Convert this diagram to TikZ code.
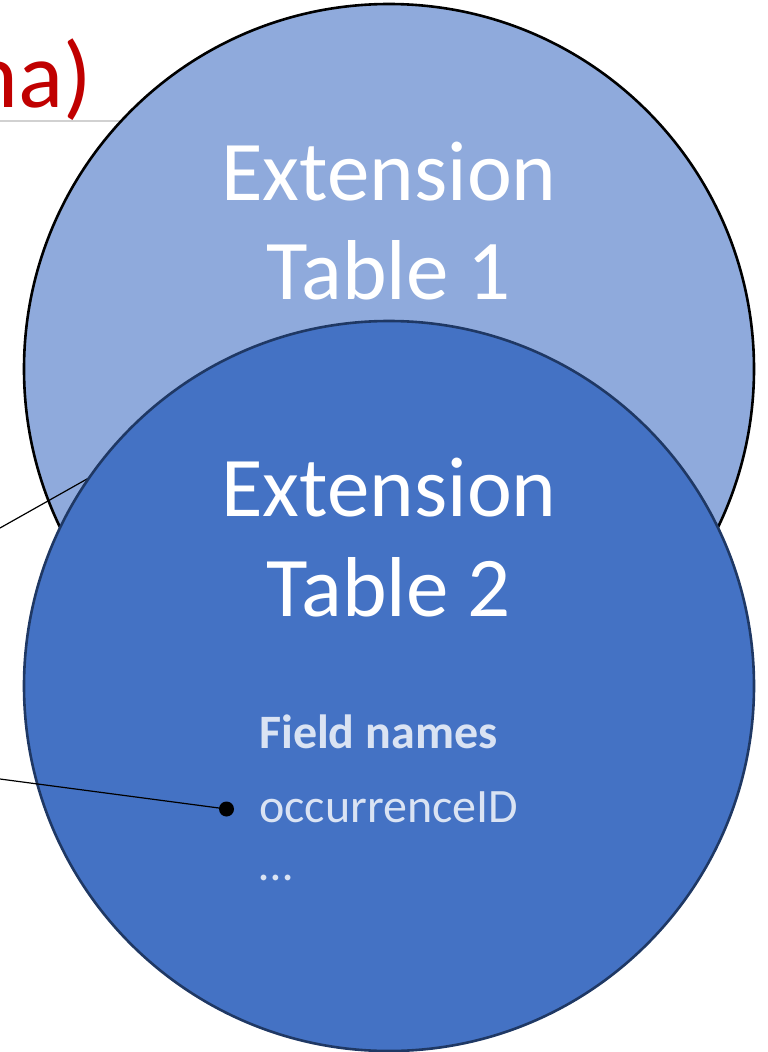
\documentclass[tikz,border=0pt]{standalone}
\usepackage{fontspec}
\setmainfont{Carlito}
\usepackage{tikz}
\usetikzlibrary{positioning,calc}
\definecolor{titlered}{HTML}{C00000}
\definecolor{lightblue}{HTML}{8FAADC}
\definecolor{midblue}{HTML}{4472C4}
\definecolor{navy}{HTML}{1F3864}
\definecolor{paleblue}{HTML}{DAE3F3}
\tikzset{
    % Define style for the two tables
    tablecircle/.style={
           circle,
           minimum size=730pt,
           inner sep=0pt,
           line width=2.6pt},
    % Define style for big white titles
    bigtitle/.style={
           text=white,
           anchor=base,
           inner sep=0pt,
           font=\fontsize{85}{100}\selectfont},
    % Define style for field list
    fieldtext/.style={
           text=paleblue,
           anchor=base west,
           inner sep=0pt,
           font=\fontsize{48}{58}\selectfont},
    % Define style for pointer lines
    pointer/.style={
           black,
           line width=1.2pt}
}
\begin{document}
\begin{tikzpicture}[x=1pt,y=-1pt]
	% Frame
	\useasboundingbox (0,0) rectangle (768,1052);
	\clip (0,0) rectangle (768,1052);

	% Heading remainder
	\node[anchor=base east, inner sep=0pt, text=titlered,
	      font=\fontsize{94}{110}\selectfont] (head) at (92,107) {schema)};
	\coordinate (rulestart) at (0,121);
	\coordinate (ruleend) at (200,121);
	\draw[black!18, line width=1.5pt] (rulestart) -- (ruleend);

	% Tables
	\node[tablecircle, fill=lightblue, draw=black] (ext1) at (389,369) {};
	\coordinate (from1) at (0,528);
	\coordinate (to1) at ($(from1)!1.6!(87,479)$);
	\draw[pointer] (from1) -- (to1);
	\node[tablecircle, fill=midblue, draw=navy] (ext2) at (389,686) {};

	\node[bigtitle] (ext1a) at (389,200) {Extension};
	\node[bigtitle] (ext1b) at (389,299) {Table 1};
	\node[bigtitle] (ext2a) at (389,516) {Extension};
	\node[bigtitle] (ext2b) at (389,616) {Table 2};

	% Field names
	\node[fieldtext, font=\fontsize{48}{58}\selectfont\bfseries] (fhead) at (259,748) {Field names};
	\node[fieldtext] (occid) at (259,822) {occurrenceID};
	\node[fieldtext] (more) at (259,880) {\dots};

	% Pointer to occurrenceID
	\coordinate (from2) at (0,779);
	\node[circle, fill=black, minimum size=15pt, inner sep=0pt] (pin) at (226.5,809) {};
	\draw[pointer] (from2) -- (pin.center);
\end{tikzpicture}
\end{document}
